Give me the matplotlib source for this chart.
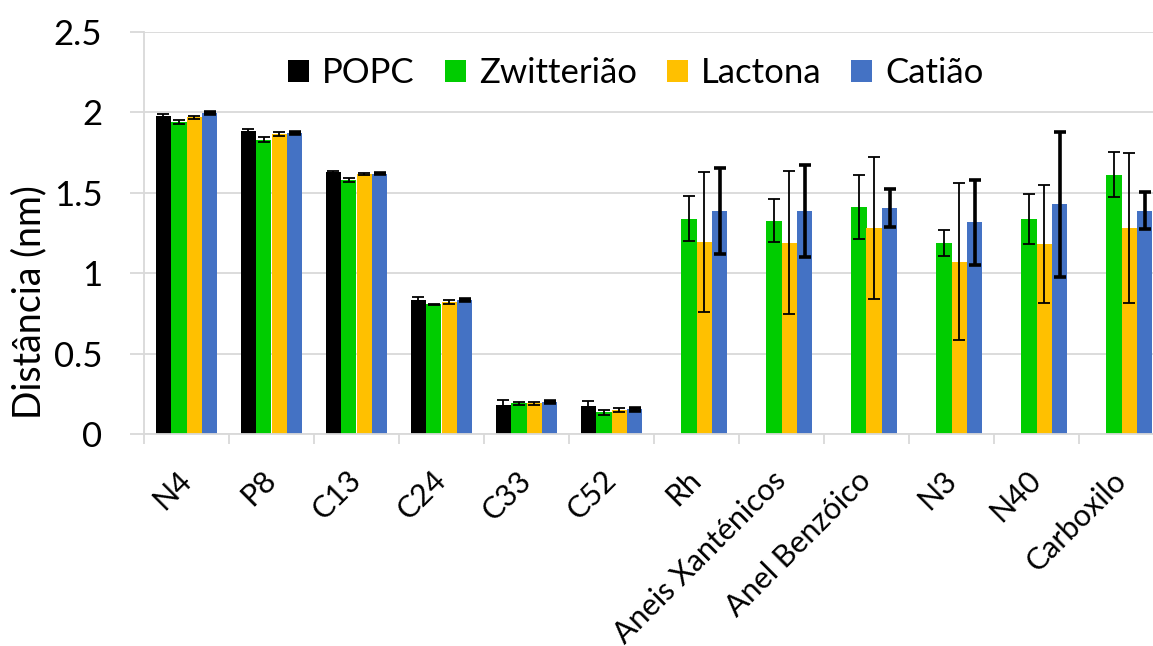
import numpy as np
import matplotlib
matplotlib.use("Agg")
import matplotlib.pyplot as plt
from matplotlib.patches import Patch

nan = np.nan

categories = ["N4", "P8", "C13", "C24", "C33", "C52", "Rh",
              "Aneis Xanténicos", "Anel Benzóico", "N3", "N40", "Carboxilo"]
series_names = ["POPC", "Zwitterião", "Lactona", "Catião"]

popc = [1.98, 1.884, 1.63, 0.833, 0.178, 0.176, nan, nan, nan, nan, nan, nan]
popc_err = [0.01, 0.01, 0.005, 0.02, 0.035, 0.029, nan, nan, nan, nan, nan, nan]
zwit = [1.94, 1.83, 1.58, 0.806, 0.19, 0.135, 1.34, 1.325, 1.41, 1.188, 1.337, 1.613]
zwit_err = [0.01, 0.015, 0.013, 0.005, 0.01, 0.014, 0.14, 0.134, 0.2, 0.082, 0.153, 0.139]
lact = [1.97, 1.866, 1.617, 0.823, 0.19, 0.151, 1.194, 1.19, 1.281, 1.07, 1.18, 1.281]
lact_err = [0.01, 0.01, 0.007, 0.013, 0.01, 0.012, 0.435, 0.443, 0.44, 0.488, 0.368, 0.465]
cati = [1.995, 1.872, 1.62, 0.833, 0.199, 0.153, 1.385, 1.385, 1.405, 1.316, 1.428, 1.387]
cati_err = [0.005, 0.005, 0.005, 0.007, 0.008, 0.007, 0.267, 0.287, 0.116, 0.266, 0.45, 0.115]

colors = ["#000000", "#00CC00", "#FFC000", "#4472C4"]
err_lw = [1.3, 1.3, 1.3, 2.6]

plt.rcParams["font.family"] = ["Lato", "DejaVu Sans"]

W, H = 1153, 646
fig = plt.figure(figsize=(W / 100, H / 100), dpi=100)
ax = fig.add_axes([144 / W, 212 / H, 1020 / W, 402 / H])

x = np.arange(len(categories))
bw = 0.182
values = [popc, zwit, lact, cati]
errors = [popc_err, zwit_err, lact_err, cati_err]
for i, (v, e) in enumerate(zip(values, errors)):
    pos = x + (i - 1.5) * bw
    v = np.asarray(v, dtype=float)
    e = np.asarray(e, dtype=float)
    ok = ~np.isnan(v)
    ax.bar(pos[ok], v[ok], width=bw, color=colors[i], zorder=2)
    ax.errorbar(pos[ok], v[ok], yerr=e[ok], fmt="none", ecolor="black",
                elinewidth=err_lw[i], capsize=4.5, capthick=err_lw[i], zorder=3)

ax.set_xlim(-0.5, len(categories) - 0.5)
ax.set_ylim(0, 2.5)
ax.set_yticks([0, 0.5, 1, 1.5, 2, 2.5])
ax.set_yticklabels(["0", "0.5", "1", "1.5", "2", "2.5"], fontsize=25)
ax.yaxis.grid(True, color="#D9D9D9", linewidth=1.3, zorder=0)
ax.set_axisbelow(True)
ax.tick_params(axis="y", length=10, width=1.3, color="#D9D9D9", pad=20)

# group separators as major ticks, category names as minor ticks
ax.set_xticks(np.arange(len(categories) + 1) - 0.5)
ax.set_xticklabels([])
ax.tick_params(axis="x", which="major", length=7, width=1.3, color="#D9D9D9")
ax.set_xticks(x, minor=True)
ax.set_xticklabels(categories, minor=True, fontsize=22, rotation=45,
                   ha="right", va="center", rotation_mode="anchor")
ax.tick_params(axis="x", which="minor", length=0, pad=30)

for s in ["top", "right"]:
    ax.spines[s].set_visible(False)
for s in ["left", "bottom"]:
    ax.spines[s].set_color("#D9D9D9")
    ax.spines[s].set_linewidth(1.3)

fig.text(29 / W, 1 - 302 / H, "Distância (nm)", rotation=90, fontsize=27,
         ha="center", va="center")

handles = [Patch(facecolor=c, edgecolor="none") for c in colors]
fig.legend(handles, series_names, loc="center", ncol=4, frameon=False,
           bbox_to_anchor=(636 / W, 1 - 73 / H), fontsize=25,
           handlelength=0.6, handleheight=0.6, handletextpad=0.38,
           columnspacing=0.86)

fig.savefig("out.png", dpi=100)
